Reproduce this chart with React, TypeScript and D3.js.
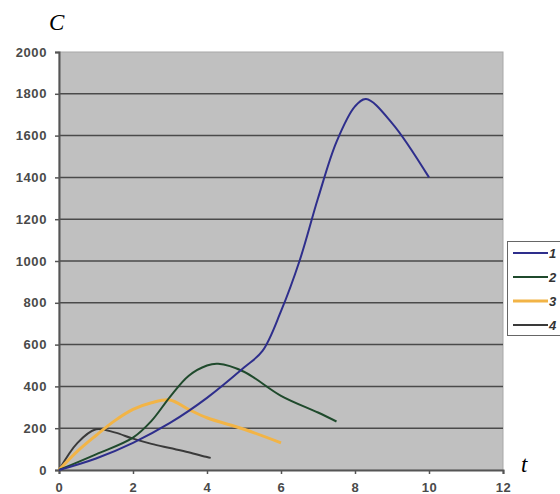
import { useEffect, useRef } from "react";
import * as d3 from "d3";

// values
const s1T = [0, 1, 2, 3, 4, 5, 5.5, 6, 6.5, 7, 7.5, 8, 8.3, 9, 10];
const s1C = [0, 55, 130, 225, 345, 490, 570, 760, 1000, 1300, 1570, 1740, 1775, 1660, 1400];
const s2T = [0, 1, 2, 2.5, 3, 3.5, 4, 4.3, 5, 6, 7, 7.5];
const s2C = [0, 75, 155, 235, 350, 450, 500, 508, 470, 355, 275, 232];
const s3T = [0, 0.5, 1, 1.5, 2, 2.5, 3, 3.5, 4, 5, 6];
const s3C = [0, 90, 165, 235, 290, 322, 335, 290, 250, 195, 130];
const s4T = [0, 0.5, 1, 1.5, 2, 2.5, 3, 3.5, 4, 4.1];
const s4C = [0, 130, 195, 180, 150, 125, 105, 85, 62, 58];

const seriesNames = ["1", "2", "3", "4"];
const seriesColors = ["#2e2e8c", "#1f4a2c", "#f2b446", "#3a3a3a"];
const seriesWidths = [2, 2, 3, 2];
const xTicks = [0, 2, 4, 6, 8, 10, 12];
const yTicks = [0, 200, 400, 600, 800, 1000, 1200, 1400, 1600, 1800, 2000];

export default function App() {
  const svgRef = useRef<SVGSVGElement>(null);

  useEffect(() => {
    if (!svgRef.current) return;
    const svg = d3.select(svgRef.current);
    svg.selectAll("*").remove();

    const x = d3.scaleLinear().domain([0, 12]).range([59, 503]);
    const y = d3.scaleLinear().domain([0, 2000]).range([470, 52]);

    // plot area
    svg.append("rect")
      .attr("x", x(0)).attr("y", y(2000))
      .attr("width", x(12) - x(0)).attr("height", y(0) - y(2000))
      .attr("fill", "#c0c0c0")
      .attr("stroke", "#a8a8a8");

    // gridlines
    svg.append("g")
      .selectAll("line")
      .data(yTicks.filter(d => d > 0 && d < 2000))
      .enter()
      .append("line")
      .attr("x1", x(0)).attr("x2", x(12))
      .attr("y1", d => y(d)).attr("y2", d => y(d))
      .attr("stroke", "#4a4a4a")
      .attr("stroke-width", 1.5);

    // axes
    const fmt = d3.format("d");
    const yAxis = svg.append("g")
      .attr("transform", `translate(${x(0)},0)`)
      .call(d3.axisLeft(y).tickValues(yTicks).tickFormat(d => fmt(d as number)).tickSize(4).tickPadding(8));
    const xAxis = svg.append("g")
      .attr("transform", `translate(0,${y(0)})`)
      .call(d3.axisBottom(x).tickValues(xTicks).tickFormat(d => fmt(d as number)).tickSize(4).tickPadding(9));
    [yAxis, xAxis].forEach(g => {
      g.select(".domain").attr("stroke", "#555").attr("stroke-width", 2);
      g.selectAll(".tick line").attr("stroke", "#555").attr("stroke-width", 1.5);
      g.selectAll(".tick text")
        .attr("fill", "#4a4a4a")
        .style("font-family", "'Liberation Sans', Arial, sans-serif")
        .style("font-size", "13px")
        .style("font-weight", "bold")
        .style("letter-spacing", "0.6px");
    });

    // series lines
    const allT = [s1T, s2T, s3T, s4T];
    const allC = [s1C, s2C, s3C, s4C];
    const line = d3.line<[number, number]>()
      .x(d => x(d[0]))
      .y(d => y(d[1]))
      .curve(d3.curveCatmullRom.alpha(0.5));
    [3, 2, 1, 0].forEach(i => {
      const pts = allT[i].map((t, j) => [t, allC[i][j]] as [number, number]);
      svg.append("path")
        .attr("d", line(pts) ?? "")
        .attr("fill", "none")
        .attr("stroke", seriesColors[i])
        .attr("stroke-width", seriesWidths[i])
        .attr("stroke-linejoin", "round");
    });

    // legend
    const legend = svg.append("g");
    legend.append("rect")
      .attr("x", 507.5).attr("y", 241.5)
      .attr("width", 70).attr("height", 94)
      .attr("fill", "#ffffff")
      .attr("stroke", "#666")
      .attr("stroke-width", 1);
    seriesNames.forEach((name, i) => {
      const ly = 253 + i * 24;
      legend.append("line")
        .attr("x1", 513).attr("x2", 548)
        .attr("y1", ly).attr("y2", ly)
        .attr("stroke", seriesColors[i])
        .attr("stroke-width", seriesWidths[i]);
      legend.append("text")
        .attr("x", 549).attr("y", ly + 4.5)
        .attr("fill", "#333")
        .style("font-family", "'Liberation Sans', Arial, sans-serif")
        .style("font-size", "13px")
        .style("font-style", "italic")
        .style("font-weight", "bold")
        .text(name);
    });

    // axis titles
    svg.append("text")
      .attr("x", 49).attr("y", 30)
      .style("font-family", "'Liberation Serif', 'Times New Roman', serif")
      .style("font-size", "23px")
      .style("font-style", "italic")
      .text("C");
    svg.append("text")
      .attr("x", 521).attr("y", 472)
      .style("font-family", "'Liberation Serif', 'Times New Roman', serif")
      .style("font-size", "23px")
      .style("font-style", "italic")
      .text("t");
  }, []);

  return (
    <svg
      ref={svgRef}
      width={560}
      height={494}
      style={{ position: "absolute", left: 0, top: 0, background: "#fff" }}
    />
  );
}
